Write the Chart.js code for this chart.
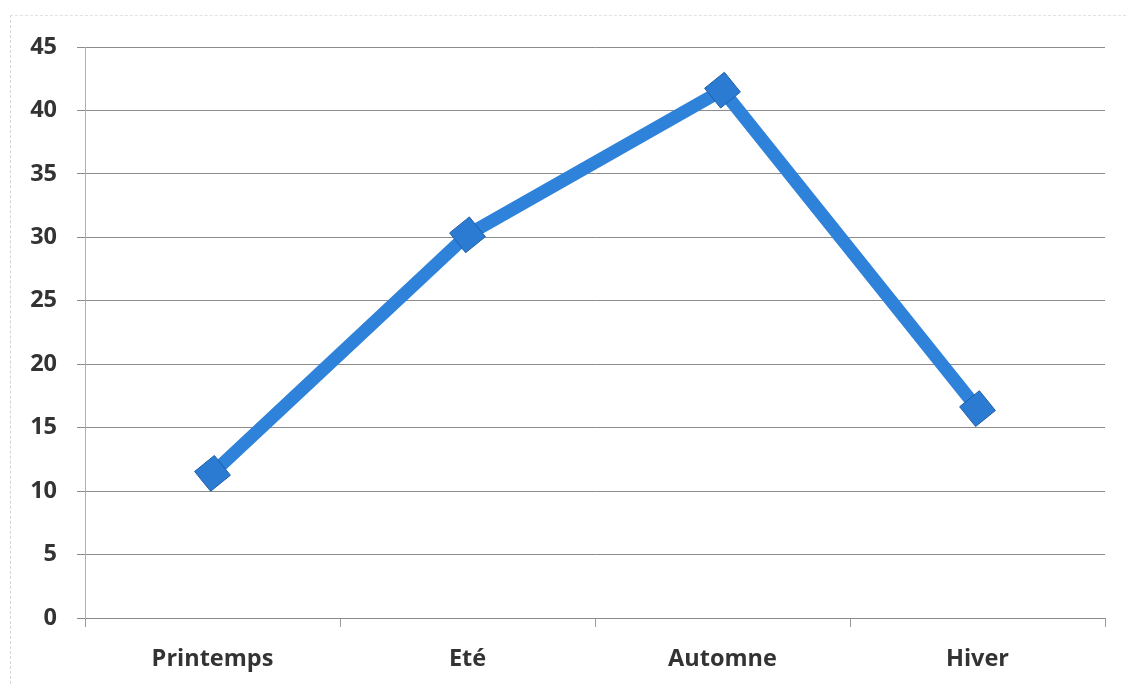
<!DOCTYPE html>
<html>
<head>
<meta charset="utf-8">
<script src="https://cdn.jsdelivr.net/npm/chart.js@4"></script>
<style>
  html, body { margin: 0; padding: 0; background: #fff; }
  #wrap { position: relative; width: 1126px; height: 684px; }
  #frame { position: absolute; left: 10px; top: 15px; width: 1116px; height: 669px;
           border-left: 1px dashed #d4d4d4; border-top: 1px dashed #e2e2e2; box-sizing: border-box; pointer-events: none; }
  canvas { position: absolute; left: 0; top: 0; }
</style>
</head>
<body>
<div id="wrap">
  <canvas id="c" width="1126" height="684"></canvas>
  <div id="frame"></div>
</div>
<script>
const categories = ["Printemps", "Eté", "Automne", "Hiver"];
const values = [11.4, 30.2, 41.6, 16.5];
const yMin = 0, yMax = 45, yStep = 5;

const labelFont = { family: "'Open Sans', Lato, sans-serif", size: 23.5, weight: "bold" };

new Chart(document.getElementById("c"), {
  type: "line",
  data: {
    labels: categories,
    datasets: [{
      data: values,
      borderColor: "#2F82DA",
      borderWidth: 13,
      backgroundColor: "#2B78CF",
      pointStyle: "rectRot",
      pointRadius: 18,
      pointHoverRadius: 18,
      pointRotation: 6,
      pointBackgroundColor: "#2C7BD3",
      pointBorderColor: "#1E5EA8",
      pointBorderWidth: 1,
      tension: 0,
      fill: false
    }]
  },
  options: {
    responsive: false,
    animation: false,
    devicePixelRatio: 1,
    layout: { padding: { top: 47, right: 21, bottom: 0, left: 0 } },
    plugins: { legend: { display: false }, tooltip: { enabled: false } },
    scales: {
      x: {
        type: "category",
        offset: true,
        grid: { display: true, offset: true, drawOnChartArea: false, drawTicks: true, tickLength: 9, color: "#9a9a9a", lineWidth: 1 },
        border: { display: true, color: "#8a8a8a", width: 1 },
        ticks: { color: "#333", font: labelFont, padding: 18, maxRotation: 0 },
        afterFit: s => { s.height = 66; }
      },
      y: {
        min: yMin, max: yMax,
        grid: { color: "#8c8c8c", lineWidth: 1, drawTicks: true, tickLength: 8 },
        border: { display: true, color: "#b0b0b0", width: 1 },
        ticks: { stepSize: yStep, color: "#333", font: labelFont, padding: 20 },
        afterFit: s => { s.width = 85; }
      }
    }
  }
});
</script>
</body>
</html>
